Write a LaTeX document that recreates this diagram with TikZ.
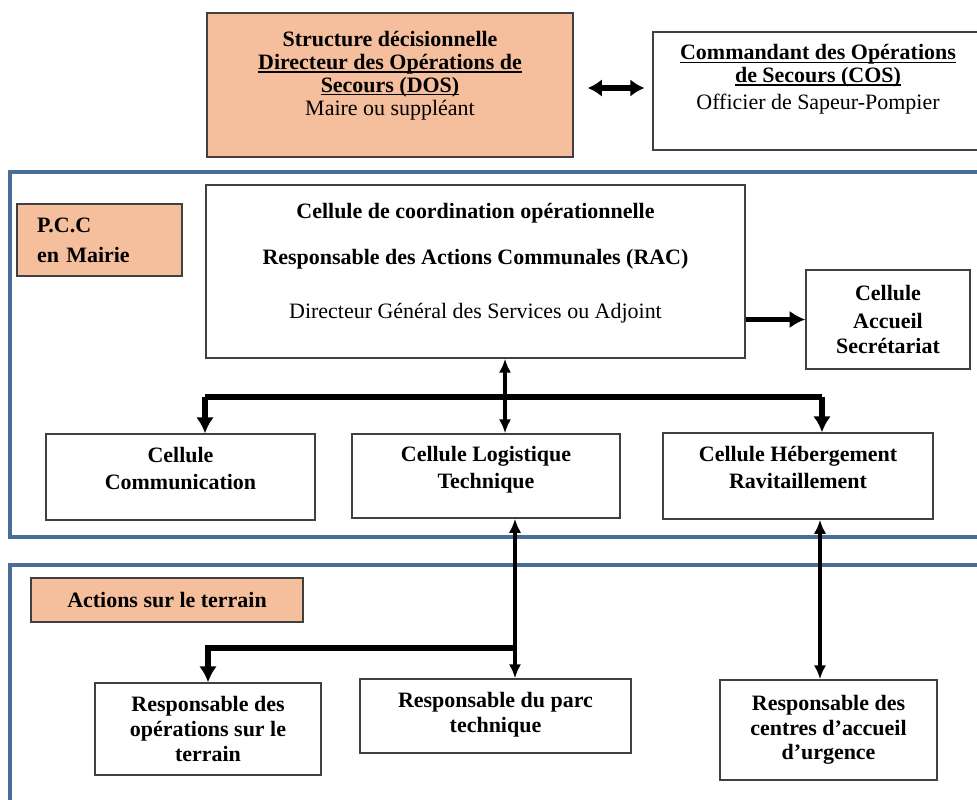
\documentclass[tikz,border=0pt]{standalone}
\usepackage{fontspec}
\setmainfont{Liberation Serif}
\usepackage{tikz}
\usetikzlibrary{arrows.meta}

\definecolor{salmon}{RGB}{245,190,156}
\definecolor{frameblue}{RGB}{70,110,150}
\newcommand{\padbot}[1]{\rule[-#1]{0pt}{#1}}
\newcommand{\ulflat}[1]{{\setbox0\hbox{#1}\rlap{\rule[-1.6pt]{\wd0}{0.7pt}}\box0}}

\begin{document}
\begin{tikzpicture}[x=0.02cm, y=-0.02cm,
    every node/.style={font=\fontsize{12.5}{13}\selectfont},
    cell box/.style={draw=black!75, line width=0.8pt, fill=white, align=center, inner sep=0pt},
    title box/.style={cell box, fill=salmon},
    zone/.style={draw=frameblue, line width=1.8pt},
    fat link/.style={line width=3.4pt, -{Latex[length=9pt,width=10pt]}},
    fat both/.style={line width=3.4pt, {Latex[length=8pt,width=10pt]}-{Latex[length=8pt,width=10pt]}},
    thin both/.style={line width=2pt, {Latex[length=8pt,width=7pt]}-{Latex[length=8pt,width=7pt]}}]

  \useasboundingbox (0,0) rectangle (977,800);
  \clip (0,0) rectangle (977,800);

  % zones
  \draw[zone] (10,172) rectangle (990,537);
  \draw[zone] (10,565) rectangle (990,810);

  % haut
  \node[title box, minimum width=7.32cm, minimum height=2.88cm] (dos) at (390,85)
    {\textbf{Structure décisionnelle}\\
     \ulflat{\textbf{Directeur des Opérations de}}\\
     \ulflat{\textbf{Secours (DOS)}}\\
     Maire ou suppléant\padbot{13pt}};
  \node[cell box, minimum width=6.6cm, minimum height=2.36cm] (cos) at (818,91)
    {\ulflat{\textbf{Commandant des Opérations}}\\
     \ulflat{\textbf{de Secours (COS)}}\\[2pt]
     Officier de Sapeur-Pompier\padbot{16pt}};

  % P.C.C
  \node[title box, minimum width=3.3cm, minimum height=1.44cm, align=left, text width=2.5cm] (pcc) at (99.5,240)
    {\textbf{P.C.C}\\[4pt] \textbf{en Mairie}};
  \node[cell box, minimum width=10.78cm, minimum height=3.46cm] (coord) at (475.5,271.5)
    {\textbf{Cellule de coordination opérationnelle}\\[13pt]
     \textbf{Responsable des Actions Communales (RAC)}\\[18pt]
     Directeur Général des Services ou Adjoint\padbot{12pt}};
  \node[cell box, minimum width=3.28cm, minimum height=1.98cm] (accueil) at (888,319.5)
    {\textbf{Cellule}\\[3pt] \textbf{Accueil}\\[1pt] \textbf{Secrétariat}};

  \node[cell box, minimum width=5.38cm, minimum height=1.72cm] (comm) at (180.5,477)
    {\textbf{Cellule}\\[2.5pt] \textbf{Communication}\padbot{10pt}};
  \node[cell box, minimum width=5.36cm, minimum height=1.68cm] (logi) at (486,476)
    {\textbf{Cellule Logistique}\\[2.5pt] \textbf{Technique}\padbot{10pt}};
  \node[cell box, minimum width=5.4cm, minimum height=1.72cm] (heberg) at (798,476)
    {\textbf{Cellule Hébergement}\\[2.5pt] \textbf{Ravitaillement}\padbot{10pt}};

  % terrain
  \node[title box, minimum width=5.44cm, minimum height=0.88cm] (terrain) at (167,600)
    {\textbf{Actions sur le terrain}};
  \node[cell box, minimum width=4.52cm, minimum height=1.84cm] (ops) at (208,729)
    {\textbf{Responsable des}\\[1pt] \textbf{opérations sur le}\\[1pt] \textbf{terrain}};
  \node[cell box, minimum width=5.42cm, minimum height=1.48cm] (parc) at (495.5,716)
    {\textbf{Responsable du parc}\\[1pt] \textbf{technique}\padbot{4pt}};
  \node[cell box, minimum width=4.34cm, minimum height=2cm] (centres) at (828.5,730)
    {\textbf{Responsable des}\\[1pt] \textbf{centres d'accueil}\\[1pt] \textbf{d'urgence}};

  % liaisons
  \coordinate (hub) at (505,397);
  \coordinate (barL) at (205,397);
  \coordinate (barR) at (822,397);
  \coordinate (drop) at (515,648);
  \coordinate (heb) at (820,600);

  \draw[fat both] ([xshift=8pt]dos.east |- 0,88) -- ([xshift=-4.5pt]cos.west |- 0,88);
  \draw[fat link, line width=2.4pt] (coord.east |- accueil.west) -- (accueil.west);
  \draw[thin both] (hub |- coord.south) -- (hub |- logi.north);
  \draw[line width=3.4pt] (barL) -- (barR);
  \draw[fat link] (barL) -- (barL |- comm.north);
  \draw[fat link] (barR) -- (barR |- heberg.north);
  \draw[thin both] (drop |- logi.south) -- (drop |- parc.north);
  \draw[fat link] (drop) -| (ops.north);
  \draw[thin both] (heb |- heberg.south) -- (heb |- centres.north);
\end{tikzpicture}
\end{document}
